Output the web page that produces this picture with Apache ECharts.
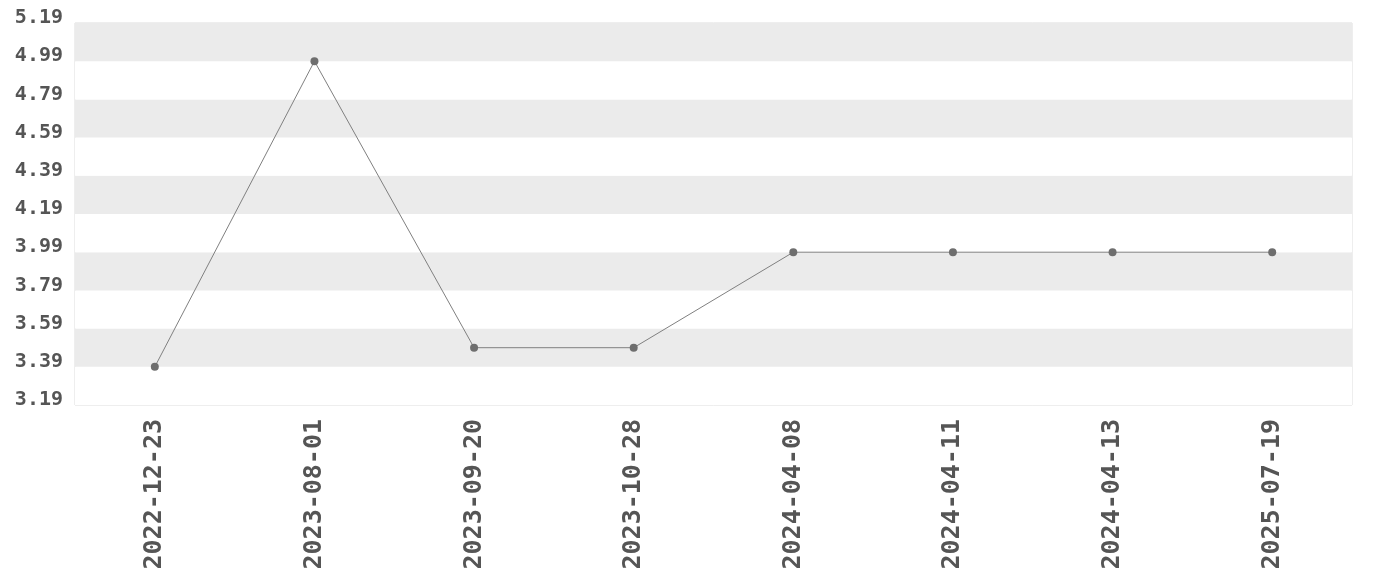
<!DOCTYPE html>
<html>
<head>
<meta charset="utf-8">
<script src="https://cdn.jsdelivr.net/npm/echarts@6/dist/echarts.min.js"></script>
<style>html,body{margin:0;padding:0;background:#fff;}#c{width:1380px;height:580px;}</style>
</head>
<body>
<div id="c"></div>
<script>
const categories = ['2022-12-23','2023-08-01','2023-09-20','2023-10-28','2024-04-08','2024-04-11','2024-04-13','2025-07-19'];
const values = [3.39, 4.99, 3.49, 3.49, 3.99, 3.99, 3.99, 3.99];
const yMin = 3.19, yMax = 5.19, yStep = 0.2;

const chart = echarts.init(document.getElementById('c'), null, {renderer: 'canvas'});
const font = '"DejaVu Sans Mono", monospace';
chart.setOption({
  animation: false,
  grid: {left: 75, right: 28, top: 23, bottom: 175, show: true, borderColor: '#dddddd', borderWidth: 1, backgroundColor: 'transparent'},
  xAxis: {
    type: 'category', data: categories, boundaryGap: true,
    axisLine: {show: false}, axisTick: {show: false},
    axisLabel: {rotate: 90, margin: 14, color: '#555', fontFamily: font, fontWeight: 'bold', fontSize: 25, interval: 0}
  },
  yAxis: {
    type: 'value', min: yMin, max: yMax, interval: yStep,
    axisLine: {show: false}, axisTick: {show: false},
    splitLine: {show: false},
    splitArea: {show: true, areaStyle: {color: ['#ffffff', '#ebebeb']}},
    axisLabel: {margin: 12, color: '#555', fontFamily: font, fontWeight: 'bold', fontSize: 20,
      verticalAlign: 'bottom', lineHeight: 10, formatter: v => v.toFixed(2)}
  },
  series: [{
    type: 'line', data: values, symbol: 'circle', symbolSize: 8,
    lineStyle: {color: '#808080', width: 1},
    itemStyle: {color: '#6e6e6e'}
  }]
});
</script>
</body>
</html>
